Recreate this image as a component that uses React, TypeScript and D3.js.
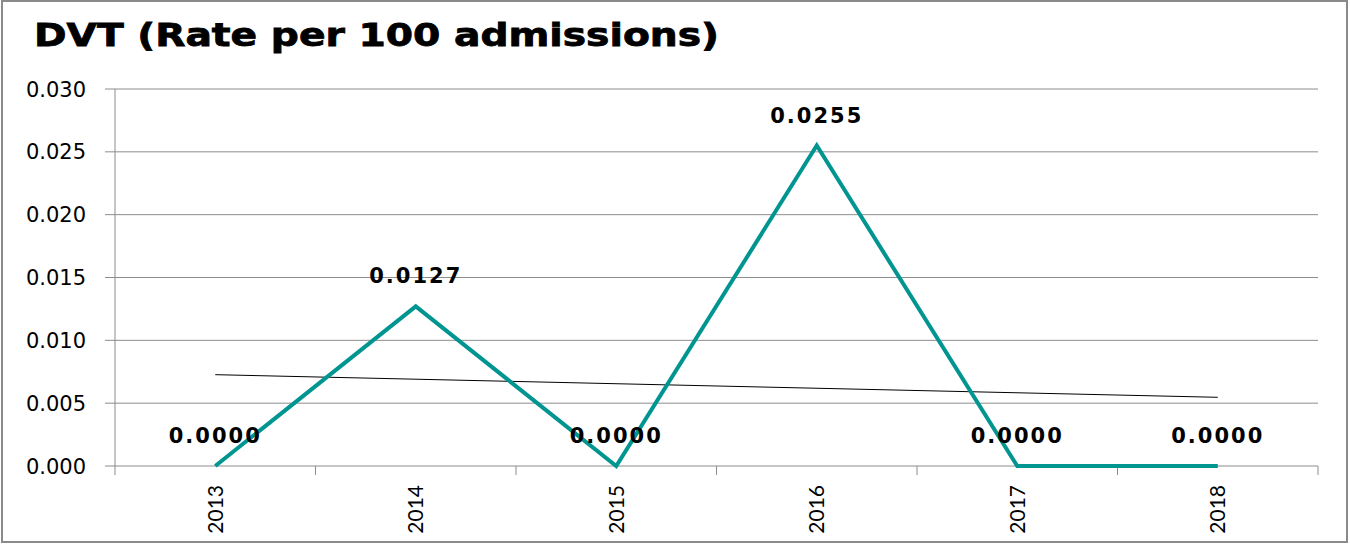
import { useEffect, useRef } from 'react';
import * as d3 from 'd3';

const years = ['2013', '2014', '2015', '2016', '2017', '2018'];
const dvtRates = [0.0, 0.0127, 0.0, 0.0255, 0.0, 0.0];
const yTicks = [0, 0.005, 0.01, 0.015, 0.02, 0.025, 0.03];
const chartTitle = 'DVT (Rate per 100 admissions)';

export default function App() {
  const containerRef = useRef<HTMLDivElement>(null);

  useEffect(() => {
    if (!containerRef.current) return;
    d3.select(containerRef.current).selectAll('*').remove();

    const width = 1350;
    const height = 544;
    const margin = { top: 89, right: 32, bottom: 78, left: 115 };
    const font = 'Lato, "Open Sans", sans-serif';
    const numFont = '"DejaVu Sans", sans-serif';

    const svg = d3
      .select(containerRef.current)
      .append('svg')
      .attr('width', width)
      .attr('height', height)
      .style('position', 'absolute')
      .style('left', '0px')
      .style('top', '0px')
      .style('background', '#fff');

    // outer frame
    svg
      .append('rect')
      .attr('x', 2)
      .attr('y', 1)
      .attr('width', width - 5)
      .attr('height', height - 3)
      .attr('fill', 'none')
      .attr('stroke', '#8a8a8a')
      .attr('stroke-width', 2);

    svg
      .append('text')
      .attr('x', 34)
      .attr('y', 46)
      .attr('font-family', numFont)
      .attr('font-weight', 700)
      .attr('font-size', '32px')
      .attr('textLength', 685)
      .attr('lengthAdjust', 'spacingAndGlyphs')
      .attr('fill', '#000')
      .attr('stroke', '#000')
      .attr('stroke-width', 0.8)
      .text(chartTitle);

    const innerWidth = width - margin.left - margin.right;
    const innerHeight = height - margin.top - margin.bottom;
    const g = svg.append('g').attr('transform', `translate(${margin.left},${margin.top})`);

    const x = d3.scaleBand<string>().domain(years).range([0, innerWidth]);
    const xc = (d: string) => (x(d) ?? 0) + x.bandwidth() / 2;
    const y = d3.scaleLinear().domain([0, 0.03]).range([innerHeight, 0]);

    // gridlines + y tick labels
    yTicks.forEach((t) => {
      g.append('line')
        .attr('x1', -10)
        .attr('x2', innerWidth)
        .attr('y1', y(t))
        .attr('y2', y(t))
        .attr('stroke', '#8c8c8c')
        .attr('stroke-width', 1);
      g.append('text')
        .attr('x', -29)
        .attr('y', y(t))
        .attr('dy', '0.36em')
        .attr('text-anchor', 'end')
        .attr('font-family', numFont)
        .attr('font-size', '21px')
        .attr('fill', '#000')
        .text(t.toFixed(3));
    });

    // y axis line
    g.append('line')
      .attr('x1', 0)
      .attr('x2', 0)
      .attr('y1', 0)
      .attr('y2', innerHeight + 9)
      .attr('stroke', '#8c8c8c')
      .attr('stroke-width', 1);

    // x tick marks at band edges + rotated year labels
    years.forEach((yr) => {
      const edge = (x(yr) ?? 0) + x.bandwidth();
      g.append('line')
        .attr('x1', edge)
        .attr('x2', edge)
        .attr('y1', innerHeight)
        .attr('y2', innerHeight + 9)
        .attr('stroke', '#8c8c8c')
        .attr('stroke-width', 1);
      g.append('text')
        .attr('transform', `translate(${xc(yr)},${innerHeight + 19}) rotate(-90)`)
        .attr('text-anchor', 'end')
        .attr('dy', '0.36em')
        .attr('font-family', font)
        .attr('font-size', '21px')
        .attr('fill', '#000')
        .text(yr);
    });

    // linear trendline (least squares over category index)
    const idx = years.map((_, i) => i);
    const mx = d3.mean(idx)!;
    const my = d3.mean(dvtRates)!;
    const slope =
      d3.sum(idx, (i) => (i - mx) * (dvtRates[i] - my)) / d3.sum(idx, (i) => (i - mx) ** 2);
    const intercept = my - slope * mx;
    g.append('line')
      .attr('x1', xc(years[0]))
      .attr('x2', xc(years[years.length - 1]))
      .attr('y1', y(intercept))
      .attr('y2', y(intercept + slope * (years.length - 1)))
      .attr('stroke', '#000')
      .attr('stroke-width', 1);

    // data line
    const line = d3
      .line<number>()
      .x((_, i) => xc(years[i]))
      .y((d) => y(d));

    g.append('path')
      .datum(dvtRates)
      .attr('d', line)
      .attr('fill', 'none')
      .attr('stroke', '#009590')
      .attr('stroke-width', 4)
      .attr('stroke-linejoin', 'miter');

    // data labels
    dvtRates.forEach((v, i) => {
      g.append('text')
        .attr('x', xc(years[i]))
        .attr('y', y(v) - 23)
        .attr('text-anchor', 'middle')
        .attr('font-family', numFont)
        .attr('font-weight', 700)
        .attr('font-size', '21px')
        .attr('letter-spacing', '2px')
        .attr('fill', '#000')
        .text(v.toFixed(4));
    });
  }, []);

  return <div ref={containerRef}></div>;
}
